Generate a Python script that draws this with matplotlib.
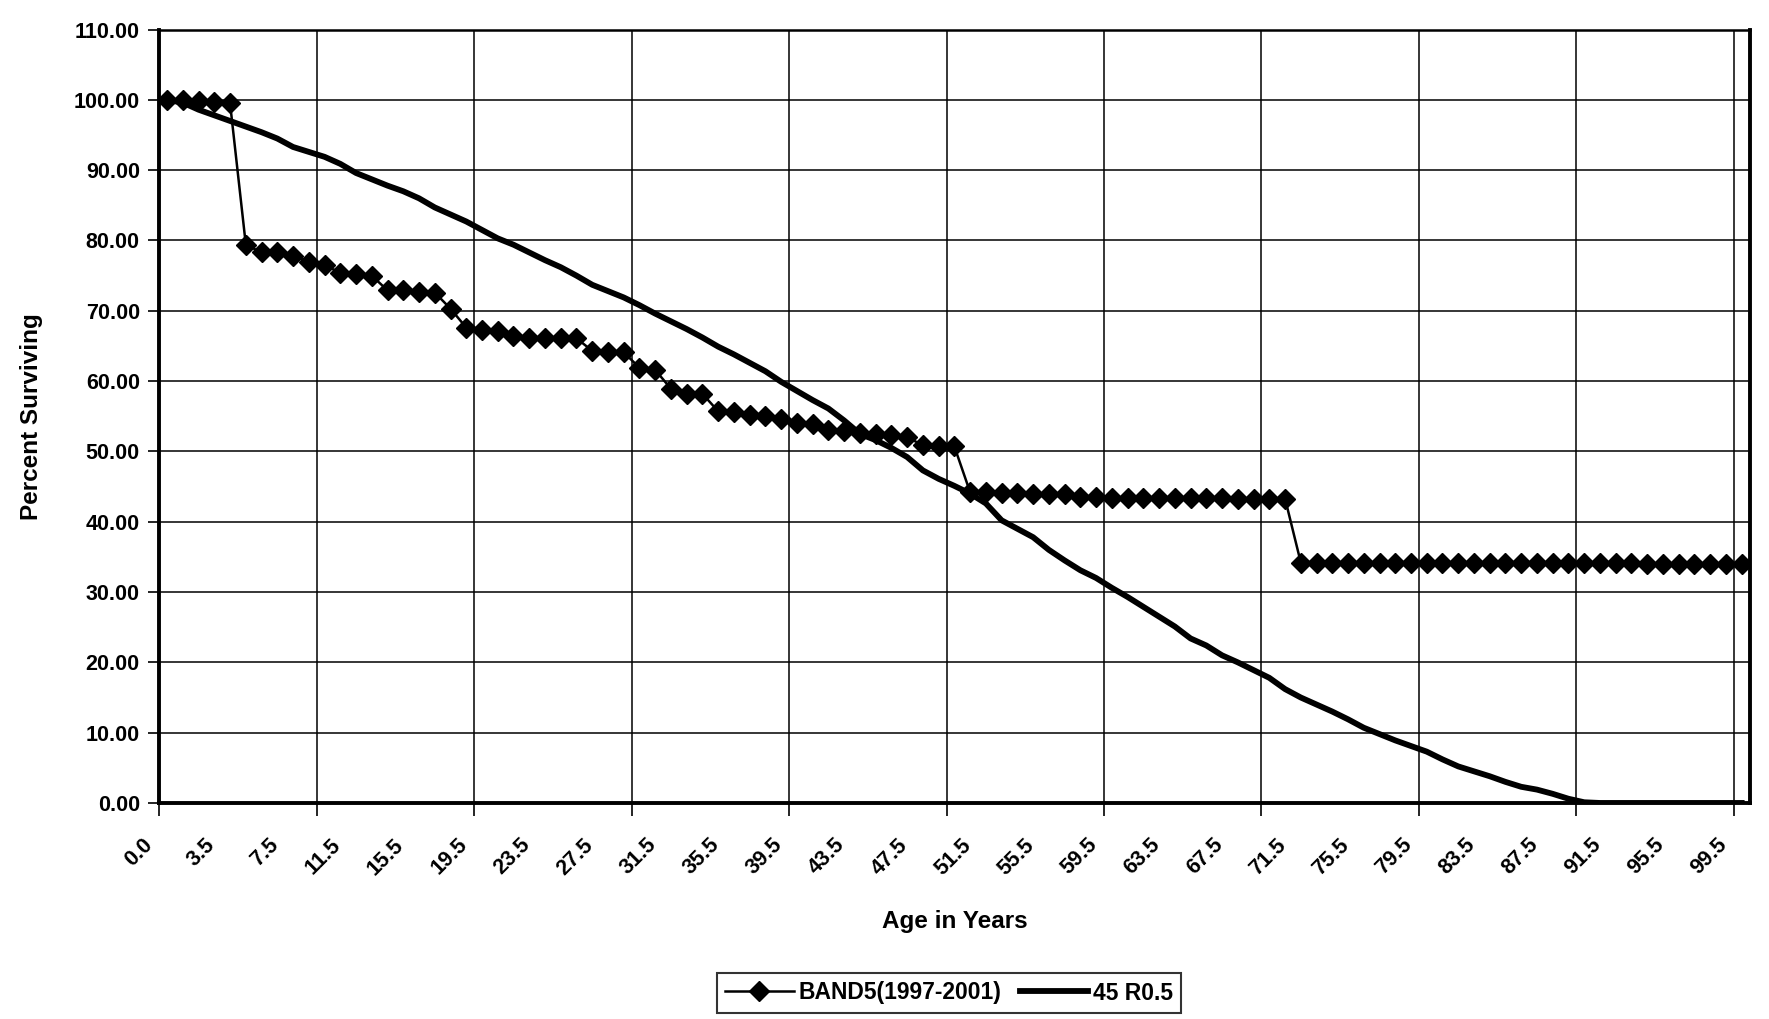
import matplotlib
matplotlib.use("Agg")
import matplotlib.pyplot as plt
import matplotlib.transforms as mtransforms
import numpy as np

# Categories (age in years)
ages = [0.0] + [i + 0.5 for i in range(100)]

# BAND5(1997-2001) observed percent surviving
band5 = [100.0, 100.0, 99.9, 99.7, 99.5, 79.4, 78.3, 78.3, 77.8, 77.0,
         76.5, 75.4, 75.3, 75.0, 72.9, 72.9, 72.7, 72.6, 70.3, 67.6,
         67.2, 67.1, 66.4, 66.2, 66.2, 66.2, 66.1, 64.3, 64.2, 64.1,
         61.9, 61.6, 58.9, 58.2, 58.2, 55.7, 55.6, 55.2, 55.1, 54.6,
         54.0, 53.9, 53.0, 52.9, 52.6, 52.5, 52.4, 52.0, 50.9, 50.8,
         50.7, 44.2, 44.2, 44.1, 44.1, 44.0, 44.0, 43.9, 43.5, 43.5,
         43.4, 43.4, 43.4, 43.4, 43.4, 43.4, 43.4, 43.4, 43.3, 43.3,
         43.3, 43.3, 34.2, 34.2, 34.2, 34.2, 34.2, 34.2, 34.2, 34.2,
         34.2, 34.2, 34.2, 34.1, 34.1, 34.1, 34.1, 34.1, 34.1, 34.1,
         34.1, 34.1, 34.1, 34.1, 34.0, 34.0, 34.0, 34.0, 34.0, 34.0,
         34.0]

# 45 R0.5 survivor curve
r05 = [100.0, 99.6, 98.6, 97.8, 97.0, 96.2, 95.4, 94.5, 93.3, 92.6,
       91.9, 90.9, 89.6, 88.7, 87.8, 87.0, 86.0, 84.7, 83.7, 82.7,
       81.5, 80.3, 79.4, 78.3, 77.2, 76.2, 75.0, 73.7, 72.8, 71.9,
       70.8, 69.6, 68.5, 67.4, 66.2, 64.9, 63.8, 62.6, 61.4, 59.9,
       58.6, 57.3, 56.1, 54.4, 52.5, 51.6, 50.5, 49.2, 47.3, 46.1,
       45.1, 44.0, 42.6, 40.2, 39.0, 37.8, 36.0, 34.5, 33.1, 32.0,
       30.6, 29.3, 27.9, 26.5, 25.1, 23.4, 22.4, 21.0, 20.0, 18.9,
       17.8, 16.2, 15.0, 14.0, 13.0, 11.9, 10.7, 9.8, 8.9, 8.1,
       7.3, 6.2, 5.2, 4.5, 3.8, 3.0, 2.3, 1.9, 1.3, 0.6,
       0.1, 0.0, 0.0, 0.0, 0.0, 0.0, 0.0, 0.0, 0.0, 0.0,
       0.0]

series_labels = ["BAND5(1997-2001)", "45 R0.5"]
y_ticks = [0, 10, 20, 30, 40, 50, 60, 70, 80, 90, 100, 110]

FONT = "Liberation Sans"

fig = plt.figure(figsize=(17.69, 10.19), dpi=100)
ax = fig.add_axes([0.090, 0.212, 0.899, 0.759])

x = np.arange(len(ages))
ax.plot(x, band5, color="black", lw=1.8, marker="D", markersize=10.5,
        markerfacecolor="black", markeredgecolor="black", label=series_labels[0], zorder=3)
ax.plot(x, r05, color="black", lw=4.2, label=series_labels[1], zorder=4)

ax.set_xlim(-0.5, len(ages) - 0.5)
ax.set_ylim(0, 110)

# y axis
ax.set_yticks(y_ticks)
ax.set_yticklabels([f"{v:.2f}" for v in y_ticks], fontfamily=FONT,
                   fontweight="bold", fontsize=15.5)
ax.tick_params(axis="y", direction="out", length=8, width=1.2, pad=6)
ax.yaxis.grid(True, color="black", lw=1.1)

# x axis: labels every 4 categories, gridlines/ticks every 10
lab_idx = list(range(0, len(ages), 4))
ax.set_xticks(lab_idx)
ax.set_xticklabels([f"{ages[i]:.1f}" for i in lab_idx], rotation=45, ha="right",
                   va="center", rotation_mode="anchor", fontfamily=FONT,
                   fontweight="bold", fontsize=15.5)
ax.tick_params(axis="x", which="major", length=0, pad=28)
offset = mtransforms.ScaledTranslation(-18 / 100, 0, fig.dpi_scale_trans)
for lbl in ax.get_xticklabels():
    lbl.set_transform(lbl.get_transform() + offset)
grid_pos = [i - 0.5 for i in range(10, len(ages), 10)]
ax.set_xticks([-0.5] + grid_pos, minor=True)
ax.tick_params(axis="x", which="minor", direction="out", length=9, width=1.2)
for gp in grid_pos:
    ax.axvline(gp, color="black", lw=1.1, zorder=1)

for s in ["left", "bottom", "right"]:
    ax.spines[s].set_linewidth(2.8)
ax.spines["top"].set_linewidth(1.8)

ax.set_xlabel("Age in Years", fontfamily=FONT, fontweight="bold", fontsize=17.5, labelpad=22)
ax.set_ylabel("Percent Surviving", fontfamily=FONT, fontweight="bold", fontsize=17.5, labelpad=22)

leg = fig.legend(loc="center", bbox_to_anchor=(949 / 1769, 1 - 993 / 1019), ncol=2,
                 frameon=True, fancybox=False, edgecolor="black", handlelength=3.0,
                 handletextpad=0.2, columnspacing=0.8, borderpad=0.35,
                 prop={"family": FONT, "weight": "bold", "size": 16.5})
leg.get_frame().set_linewidth(1.5)

fig.savefig("out.png", dpi=100, facecolor="white")
